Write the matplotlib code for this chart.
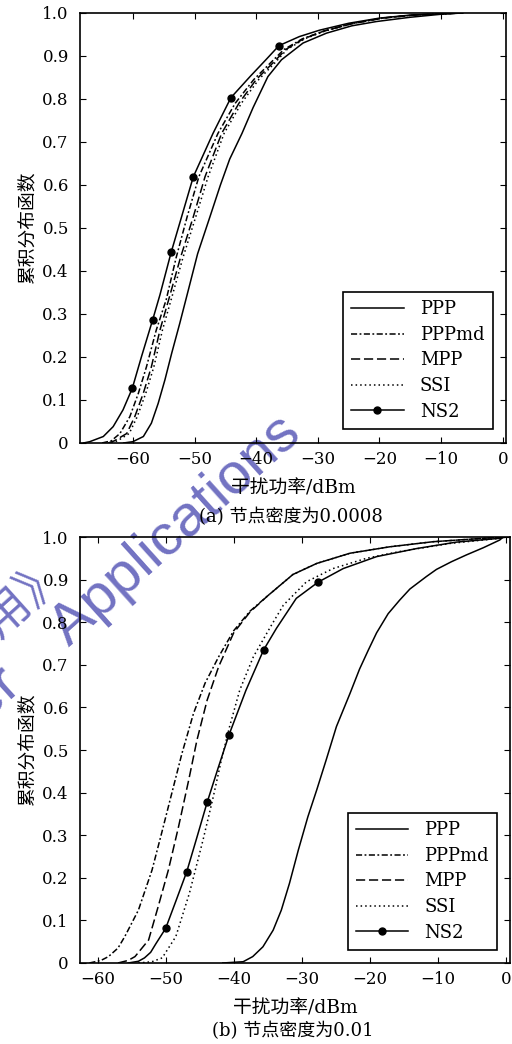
import matplotlib
matplotlib.use("Agg")
import matplotlib.pyplot as plt

plt.rcParams["font.family"] = ["DejaVu Serif", "Noto Sans CJK SC"]
plt.rcParams["axes.unicode_minus"] = True

# ---- panel (a): node density 0.0008 ----
ppp_a_x = [-61.5, -60.0, -58.3, -57.0, -55.9, -54.8, -53.7, -52.4, -51.0, -49.5, -47.5, -45.8,
           -44.3, -42.3, -40.5, -38.1, -35.9, -32.4, -28.6, -24.5, -20.5, -15.0, -10.0, -6.5]
ppp_a_y = [0.0, 0.003, 0.015, 0.046, 0.092, 0.147, 0.209, 0.278, 0.356, 0.44, 0.526, 0.6,
           0.66, 0.72, 0.78, 0.852, 0.891, 0.93, 0.953, 0.97, 0.98, 0.99, 0.997, 1.0]

pppmd_a_x = [-65.0, -63.5, -62.1, -60.5, -59.1, -57.8, -56.2, -54.6, -53.0, -51.2, -49.3, -46.2,
             -43.4, -40.4, -37.6, -35.5, -32.5, -29.0, -24.5, -19.5, -14.5, -10.0, -6.5]
mpp_a_x = [-64.0, -63.0, -61.0, -59.7, -58.3, -57.0, -55.6, -54.2, -52.3, -50.2, -48.3, -45.6,
           -42.8, -40.0, -37.2, -35.2, -32.3, -29.0, -24.5, -19.5, -14.5, -10.0, -6.5]
ssi_a_x = [-63.5, -62.5, -60.6, -59.3, -57.9, -56.6, -55.2, -53.8, -51.9, -49.8, -47.8, -45.2,
           -42.4, -39.6, -36.9, -35.0, -32.1, -28.8, -24.5, -19.5, -14.5, -10.0, -6.5]
mid_a_y = [0.0, 0.005, 0.022, 0.061, 0.116, 0.177, 0.263, 0.333, 0.43, 0.526, 0.619, 0.72,
           0.79, 0.845, 0.885, 0.915, 0.94, 0.958, 0.975, 0.988, 0.995, 0.998, 1.0]

ns2_a_x = [-68.0, -67.0, -64.8, -63.2, -61.6, -60.1, -58.6, -56.8, -55.6, -53.8, -52.1, -50.2,
           -47.0, -44.1, -41.0, -38.5, -36.3, -33.0, -29.7, -25.0, -20.0, -15.0, -10.0, -6.5]
ns2_a_y = [0.0, 0.003, 0.015, 0.038, 0.077, 0.127, 0.201, 0.286, 0.345, 0.443, 0.526, 0.619,
           0.72, 0.803, 0.852, 0.89, 0.924, 0.945, 0.96, 0.976, 0.988, 0.995, 0.998, 1.0]
ns2_a_marks = [5, 7, 9, 11, 13, 16]

# ---- panel (b): node density 0.01 ----
ppp_b_x = [-41.6, -38.6, -37.2, -35.7, -34.2, -33.0, -31.8, -30.5, -29.1, -27.8, -26.4, -24.9,
           -22.9, -21.5, -20.2, -19.0, -17.3, -15.6, -14.1, -11.7, -10.2, -8.0, -5.8, -3.3,
           -0.9, -0.4]
ppp_b_y = [0.0, 0.003, 0.015, 0.038, 0.077, 0.124, 0.187, 0.265, 0.343, 0.406, 0.477, 0.555,
           0.633, 0.69, 0.735, 0.775, 0.82, 0.852, 0.878, 0.907, 0.924, 0.942, 0.958, 0.975,
           0.993, 1.0]

pppmd_b_x = [-61.2, -59.5, -58.4, -57.0, -56.0, -54.0, -52.0, -50.6, -49.1, -47.6, -45.9, -44.2,
             -42.2, -40.0, -37.6, -35.0, -31.3, -27.8, -22.9, -17.1, -10.7, -3.3, -0.5]
pppmd_b_y = [0.0, 0.006, 0.015, 0.035, 0.062, 0.124, 0.218, 0.304, 0.398, 0.492, 0.586, 0.657,
             0.719, 0.780, 0.826, 0.862, 0.912, 0.938, 0.962, 0.977, 0.989, 0.997, 1.0]

mpp_b_x = [-57.0, -55.5, -54.5, -52.5, -51.1, -49.6, -48.1, -46.6, -45.4, -43.9, -42.2, -40.0,
           -37.6, -35.0, -31.3, -27.8, -22.9, -17.1, -10.7, -3.3, -0.5]
mpp_b_y = [0.0, 0.006, 0.015, 0.054, 0.132, 0.218, 0.32, 0.43, 0.523, 0.617, 0.696, 0.775,
           0.824, 0.862, 0.912, 0.938, 0.962, 0.977, 0.989, 0.997, 1.0]

ssi_b_x = [-54.0, -52.0, -50.5, -48.5, -46.5, -44.5, -43.1, -41.8, -40.6, -39.1, -37.1, -34.6,
           -32.7, -29.3, -25.4, -20.5, -15.6, -8.2, -0.9, 0.0]
ssi_b_y = [0.0, 0.003, 0.012, 0.062, 0.164, 0.289, 0.383, 0.477, 0.555, 0.641, 0.719, 0.789,
           0.840, 0.895, 0.926, 0.95, 0.966, 0.985, 0.997, 1.0]

ns2_b_x = [-55.5, -54.0, -53.1, -52.2, -51.4, -50.0, -48.5, -46.9, -45.4, -43.9, -42.3, -40.7,
           -38.2, -35.6, -33.7, -30.8, -27.6, -23.9, -19.0, -13.1, -7.3, -0.9, 0.0]
ns2_b_y = [0.0, 0.004, 0.012, 0.025, 0.046, 0.081, 0.145, 0.214, 0.295, 0.377, 0.457, 0.535,
           0.64, 0.735, 0.786, 0.856, 0.894, 0.926, 0.954, 0.973, 0.988, 0.997, 1.0]
ns2_b_marks = [5, 7, 9, 11, 13, 16]

x_ticks = [-60, -50, -40, -30, -20, -10, 0]
y_ticks = [0, 0.1, 0.2, 0.3, 0.4, 0.5, 0.6, 0.7, 0.8, 0.9, 1.0]
y_tick_labels = ["0", "0.1", "0.2", "0.3", "0.4", "0.5", "0.6", "0.7", "0.8", "0.9", "1.0"]
series_names = ["PPP", "PPPmd", "MPP", "SSI", "NS2"]
x_label = "干扰功率/dBm"
y_label = "累积分布函数"
captions = ["(a) 节点密度为0.0008", "(b) 节点密度为0.01"]
watermark_en = "Computer    Applications"
watermark_cn = "《计算机应用》"

DASHDOT = (0, (4, 1.6, 1.2, 1.6))
DASHED = (0, (6, 2.5))
DOTTED = (0, (1, 2))


def draw_panel(ax, ppp, pppmd, mpp, ssi, ns2, marks, xlim, legend_anchor):
    lw = 1.1
    ax.patch.set_alpha(0)  # let the watermark behind show through
    ax.plot(*ppp, color="black", lw=lw, label=series_names[0])
    ax.plot(*pppmd, color="black", lw=lw, linestyle=DASHDOT, label=series_names[1])
    ax.plot(*mpp, color="black", lw=lw, linestyle=DASHED, label=series_names[2])
    ax.plot(*ssi, color="black", lw=lw, linestyle=DOTTED, label=series_names[3])
    ax.plot(*ns2, color="black", lw=lw, marker="o", markersize=5, markevery=marks,
            label=series_names[4])
    ax.set_xlim(*xlim)
    ax.set_ylim(0, 1.0)
    ax.set_xticks(x_ticks)
    ax.set_xticklabels(["\u2212%d" % -t if t < 0 else "%d" % t for t in x_ticks])
    ax.set_yticks(y_ticks)
    ax.set_yticklabels(y_tick_labels)
    ax.tick_params(direction="in", top=True, right=True, length=4, width=0.8,
                   labelsize=12)
    ax.tick_params(axis="x", pad=6)
    ax.tick_params(axis="y", pad=8)
    for sp in ax.spines.values():
        sp.set_linewidth(1.2)
    ax.set_xlabel(x_label, fontsize=13.5, labelpad=8)
    ax.set_ylabel(y_label, fontsize=13.5, labelpad=4)
    leg = ax.legend(loc="lower right", bbox_to_anchor=legend_anchor, borderaxespad=0,
                    fontsize=13, fancybox=False, edgecolor="black", framealpha=1,
                    handlelength=2.9, handletextpad=0.9, labelspacing=0.42,
                    borderpad=0.45)
    leg.get_frame().set_linewidth(1.2)


fig = plt.figure(figsize=(5.12, 10.44), dpi=100)
ax_a = fig.add_axes([0.156, 0.5757, 0.832, 0.4119])
ax_b = fig.add_axes([0.156, 0.0776, 0.840, 0.4080])

draw_panel(ax_a, (ppp_a_x, ppp_a_y), (pppmd_a_x, mid_a_y), (mpp_a_x, mid_a_y),
           (ssi_a_x, mid_a_y), (ns2_a_x, ns2_a_y), ns2_a_marks, (-68.6, 0.5), (0.969, 0.033))
draw_panel(ax_b, (ppp_b_x, ppp_b_y), (pppmd_b_x, pppmd_b_y), (mpp_b_x, mpp_b_y),
           (ssi_b_x, ssi_b_y), (ns2_b_x, ns2_b_y), ns2_b_marks, (-62.6, 0.6), (0.970, 0.031))

fig.text(0.568, 1 - 517 / 1044, captions[0], ha="center", va="center", fontsize=13)
fig.text(0.572, 1 - 1031 / 1044, captions[1], ha="center", va="center", fontsize=13)

# journal watermark, drawn behind the axes content
wm_color = "#7272c2"
fig.text(303 / 512, 1 - 437 / 1044, watermark_en, rotation=42,
         rotation_mode="anchor", ha="right", va="baseline", fontsize=42,
         family="Liberation Sans", color=wm_color, zorder=-1)
fig.text(-68 / 512, 1 - 661 / 1044, watermark_cn, rotation=42,
         rotation_mode="anchor", ha="center", va="center", fontsize=34,
         family="Noto Sans CJK SC", color=wm_color, zorder=-1)

fig.savefig("out.png", dpi=100)
